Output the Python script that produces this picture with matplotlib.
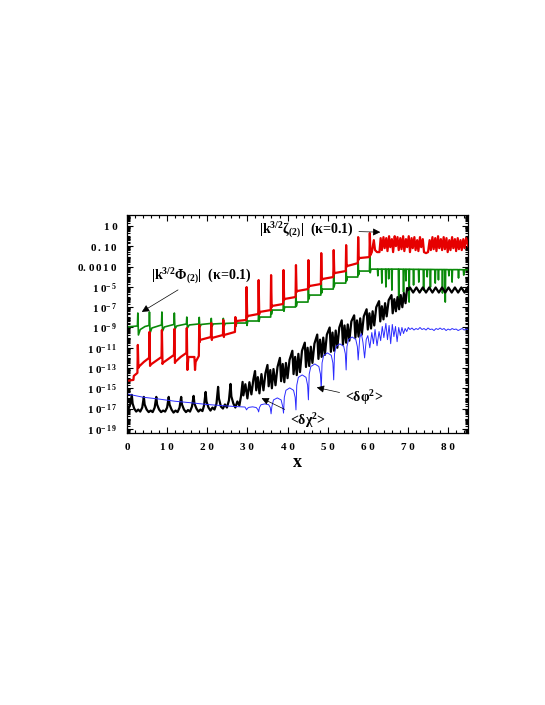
import numpy as np
import matplotlib.pyplot as plt
from matplotlib.ticker import FixedLocator, LogLocator, NullFormatter, MultipleLocator

plt.rcParams['font.family'] = 'Liberation Serif'
plt.rcParams['font.weight'] = 'bold'
plt.rcParams['mathtext.fontset'] = 'custom'
plt.rcParams['mathtext.rm'] = 'Liberation Serif:bold'
plt.rcParams['mathtext.it'] = 'Liberation Serif:bold'
plt.rcParams['mathtext.bf'] = 'Liberation Serif:bold'

# ---- data: (x, log10 value) ----
# |k^{3/2} zeta_(2)|  (red)
red_pts = [
    (0, -14.27), (1.6, -14.17), (1.7, -13.78), (2.6, -13.48), (2.7, -10.72), (2.85, -12.99),
    (2.9, -12.89), (4.2, -12.4), (5.5, -12.0), (5.6, -9.44), (5.75, -12.79),
    (5.8, -12.69), (7.2, -12.3), (8.6, -11.91), (8.7, -9.25), (8.85, -12.6),
    (8.9, -12.5), (10.3, -12.1), (11.7, -11.71), (11.8, -9.15), (11.95, -12.5),
    (12.0, -12.4), (13.4, -11.9), (14.8, -11.51), (14.9, -9.05), (15.05, -13.19),
    (15.3, -11.91), (16.8, -11.91), (16.95, -13.19), (17.1, -12.4), (17.9, -11.81),
    (18.0, -8.75), (18.15, -10.43),
    (18.2, -10.23), (20.9, -9.94), (21.0, -8.56), (21.15, -10.23),
    (21.2, -10.03), (23.9, -9.74), (24.0, -8.26), (24.15, -9.94),
    (24.2, -9.74), (26.9, -9.44), (27.0, -7.97), (27.15, -8.75),
    (27.2, -8.36), (29.7, -8.26), (29.8, -5.01), (29.95, -8.0),
    (30.0, -7.87), (32.7, -7.67), (32.8, -4.32), (32.95, -7.7),
    (33.0, -7.47), (35.8, -7.28), (35.9, -3.83), (36.05, -7.0),
    (36.1, -6.88), (38.9, -6.68), (39.0, -3.33), (39.15, -6.3),
    (39.2, -6.19), (42.0, -5.99), (42.1, -2.84), (42.25, -5.5),
    (42.3, -5.41), (45.1, -5.21), (45.2, -2.35), (45.35, -5.0),
    (45.4, -4.91), (48.3, -4.71), (48.4, -1.66), (48.55, -4.3),
    (48.6, -4.22), (51.4, -4.02), (51.5, -1.36), (51.65, -3.7),
    (51.7, -3.63), (54.5, -3.43), (54.6, -0.87), (54.75, -3.0),
    (54.8, -2.94), (57.5, -2.65), (57.6, -0.08), (57.75, -2.3),
    (57.8, -2.15), (60.4, -2.05), (60.5, 0.31), (60.65, -1.86),
    (61.0, -1.56), (61.5, -0.38), (61.8, -1.36), (62.3, -1.56), (62.9, -1.56), (63.2, -0.18),
    (63.5, -1.36), (63.9, -0.08), (64.2, -1.17), (64.6, -0.18), (64.9, -1.46), (65.3, 0.01),
    (65.6, -1.07), (66.0, -0.28), (66.3, -1.56), (66.7, 0.01), (67.0, -0.97), (67.4, -0.08),
    (67.7, -1.36), (68.1, -0.18), (68.4, -1.27), (68.8, 0.01), (69.1, -1.46), (69.5, -0.28),
    (69.8, -1.07), (70.2, 0.01), (70.5, -1.56), (70.9, -0.18), (71.2, -1.17), (71.6, -0.08),
    (71.9, -1.36), (72.3, -0.38), (72.6, -1.46), (73.0, -0.08), (73.3, -1.07), (73.7, -0.28),
    (74.0, -1.56), (74.5, -1.66), (75.0, -1.56), (75.4, -0.38), (75.7, -1.36), (76.1, -0.08),
    (76.4, -1.27), (76.8, -0.18), (77.1, -1.46), (77.5, 0.01), (77.8, -1.17), (78.2, -0.28),
    (78.5, -1.36), (78.9, -0.08), (79.2, -1.27), (79.6, -0.18), (79.9, -1.56), (80.3, -0.38),
    (80.6, -1.36), (81.0, -0.08), (81.3, -1.17), (81.7, -0.28), (82.0, -1.46), (82.4, -0.18),
    (82.7, -1.27), (83.1, -0.38), (83.4, -1.36), (83.8, -0.28), (84.1, -1.17), (84.5, -0.18),
    (85.0, -0.97),
]

# |k^{3/2} Phi_(2)|  (green)
green_pts = [
    (0, -8.95), (2.6, -8.85), (2.7, -7.57), (2.85, -9.74), (3.3, -9.2), (4.5, -8.9),
    (5.5, -8.8), (5.6, -7.47), (5.75, -9.54), (6.2, -9.05), (8.6, -8.75), (8.7, -7.47),
    (8.85, -9.35), (9.3, -8.95), (11.7, -8.7), (11.8, -7.57), (11.95, -9.15), (12.4, -8.85),
    (14.8, -8.65), (14.9, -7.97), (15.05, -9.05), (15.5, -8.75), (17.9, -8.65), (18.0, -8.0),
    (18.15, -8.95), (18.5, -8.7), (20.9, -8.6), (21.0, -8.1), (21.15, -8.9), (21.5, -8.65),
    (23.9, -8.6), (24.0, -8.1), (24.15, -8.9), (24.5, -8.6), (26.9, -8.56),
    (27.0, -8.1), (27.1, -8.9), (27.3, -8.56), (29.7, -8.56), (29.8, -7.8), (29.9, -8.8),
    (30.1, -8.36), (32.7, -8.36), (32.8, -7.5), (32.9, -8.4), (33.1, -7.97), (35.8, -7.97),
    (35.9, -6.8), (36.0, -7.7), (36.2, -7.28), (38.9, -7.28), (39.0, -6.1), (39.1, -7.4),
    (39.3, -6.98), (42.0, -6.98), (42.1, -5.3), (42.2, -6.9), (42.4, -6.49), (45.1, -6.49),
    (45.2, -4.8), (45.3, -6.2), (45.5, -5.80), (48.3, -5.80), (48.4, -4.1), (48.5, -5.6),
    (48.7, -5.21), (51.4, -5.21), (51.5, -3.5), (51.6, -5.0), (51.8, -4.62), (54.5, -4.62),
    (54.6, -2.9), (54.7, -4.4), (54.9, -4.02), (57.5, -4.02), (57.6, -2.3), (57.7, -3.8),
    (57.9, -3.43), (60.4, -3.43), (60.5, -1.8), (60.6, -3.6), (60.8, -3.24),
    (62.4, -3.24), (62.5, -3.9), (62.6, -3.24), (63.4, -3.24), (63.5, -4.62), (63.6, -3.24),
    (64.4, -3.24), (64.5, -5.0), (64.6, -3.24), (65.1, -3.24), (65.2, -4.2), (65.3, -3.24),
    (65.9, -3.24), (66.0, -5.31), (66.1, -3.24), (67.6, -3.24), (67.7, -6.29), (67.8, -3.24),
    (68.8, -3.25), (68.9, -5.5), (69.0, -3.25), (69.4, -3.25), (69.5, -4.4), (69.6, -3.25),
    (70.2, -3.25), (70.3, -6.49), (70.4, -3.25), (71.3, -3.26), (71.4, -4.81), (71.5, -3.26),
    (72.6, -3.26), (72.7, -4.52), (72.8, -3.26), (73.8, -3.27), (73.9, -5.31), (74.0, -3.27),
    (74.7, -3.27), (74.8, -4.0), (74.9, -3.27), (75.5, -3.27), (75.6, -5.01), (75.7, -3.27),
    (76.7, -3.28), (76.8, -4.62), (76.9, -3.28), (77.5, -3.28), (77.6, -4.3), (77.7, -3.28),
    (78.5, -3.28), (78.6, -5.6), (78.7, -3.28), (79.2, -3.28), (79.3, -6.49), (79.4, -3.28),
    (80.1, -3.29), (80.2, -3.9), (80.3, -3.29), (80.9, -3.29), (81.0, -4.52), (81.1, -3.29),
    (82.5, -3.29), (82.6, -4.12), (82.7, -3.29), (83.8, -3.3), (83.9, -3.83), (84.0, -3.3),
    (85.0, -3.3),
]

# <d chi^2>  (black)
black_pts = [
    (0, -16.7), (0.4, -17.0), (0.8, -16.6), (1.2, -15.65), (1.4, -16.5), (1.8, -17.0),
    (2.3, -17.3), (2.8, -17.1), (3.3, -17.3), (3.8, -16.9), (4.2, -15.85), (4.4, -16.6),
    (4.9, -17.1), (5.4, -17.35), (5.9, -17.2), (6.4, -17.35), (6.9, -16.9), (7.3, -15.85),
    (7.5, -16.6), (8.0, -17.1), (8.5, -17.35), (9.0, -17.2), (9.5, -17.3), (10.0, -16.9),
    (10.4, -15.85), (10.6, -16.6), (11.1, -17.1), (11.6, -17.4), (12.1, -17.2), (12.6, -17.35),
    (13.1, -16.9), (13.5, -15.85), (13.7, -16.6), (14.2, -17.1), (14.7, -17.35), (15.2, -17.15),
    (15.7, -17.3), (16.2, -16.8), (16.6, -15.75), (16.8, -16.5), (17.3, -17.0), (17.8, -17.3),
    (18.3, -17.1), (18.8, -17.25), (19.2, -16.7), (19.6, -15.36), (19.8, -16.3), (20.3, -16.9),
    (20.8, -17.2), (21.3, -16.9), (21.8, -17.1), (22.3, -16.5), (22.7, -14.86), (22.9, -16.0),
    (23.4, -16.8), (23.9, -17.0), (24.4, -16.6), (24.9, -16.9), (25.4, -16.2), (25.8, -14.57),
    (26.0, -15.8), (26.5, -16.5), (27.0, -16.9), (27.5, -16.3), (28.0, -16.7), (28.4, -15.8),
    (28.8, -14.37), (29.0, -15.7), (29.5, -14.6), (30.0, -16.0), (30.5, -14.4), (31.0, -15.6),
    (31.5, -14.1), (31.9, -13.3), (32.2, -15.2), (32.6, -13.9), (33.0, -15.5), (33.5, -13.6),
    (34.0, -15.2), (34.5, -13.5), (35.0, -12.7), (35.3, -14.8), (35.7, -13.2), (36.1, -15.0),
    (36.5, -13.1), (37.0, -14.7), (37.5, -12.9), (38.1, -12.0), (38.4, -14.3), (38.8, -12.6),
    (39.2, -14.4), (39.6, -12.5), (40.0, -14.0), (40.5, -12.2), (41.2, -11.3), (41.5, -13.6),
    (41.9, -11.9), (42.3, -13.7), (42.7, -11.6), (43.1, -13.4), (43.6, -11.3), (44.3, -10.5),
    (44.6, -12.9), (45.0, -11.0), (45.4, -12.8), (45.8, -10.9), (46.2, -12.5), (46.7, -10.6),
    (47.4, -9.7), (47.7, -12.1), (48.1, -10.2), (48.5, -11.9), (48.9, -10.0), (49.3, -11.7),
    (49.8, -9.7), (50.5, -9.0), (50.8, -11.4), (51.2, -9.5), (51.6, -11.3), (52.0, -9.3),
    (52.4, -11.0), (52.9, -9.0), (53.5, -8.3), (53.8, -10.7), (54.2, -8.8), (54.6, -10.5),
    (55.0, -8.7), (55.4, -10.3), (55.9, -8.4), (56.6, -7.8), (56.9, -10.0), (57.3, -8.3),
    (57.7, -9.9), (58.1, -8.1), (58.5, -9.7), (59.0, -7.9), (59.7, -7.2), (60.0, -9.2),
    (60.4, -7.6), (60.8, -9.1), (61.2, -7.4), (61.6, -8.8), (62.1, -7.0), (62.8, -6.4),
    (63.1, -8.4), (63.5, -6.9), (63.9, -8.2), (64.3, -6.6), (64.7, -7.9), (65.2, -6.3),
    (65.9, -5.8), (66.2, -7.6), (66.6, -6.2), (67.0, -7.4), (67.4, -6.0), (67.8, -7.2),
    (68.2, -5.8), (68.6, -7.0), (69.0, -5.6), (69.4, -6.6), (69.8, -5.1),
    (70.1, -5.3), (70.5, -5.05), (70.9, -5.3), (71.3, -5.55), (71.7, -5.3), (72.1, -5.05),
    (72.5, -5.3), (72.9, -5.55), (73.3, -5.3), (73.7, -5.05), (74.1, -5.3), (74.5, -5.55),
    (74.9, -5.3), (75.3, -5.05), (75.7, -5.3), (76.1, -5.55), (76.5, -5.3), (76.9, -5.05),
    (77.3, -5.3), (77.7, -5.55), (78.1, -5.3), (78.5, -5.05), (78.9, -5.3), (79.3, -5.55),
    (79.7, -5.3), (80.1, -5.05), (80.5, -5.3), (80.9, -5.55), (81.3, -5.3), (81.7, -5.05),
    (82.1, -5.3), (82.5, -5.55), (82.9, -5.3), (83.3, -5.05), (83.7, -5.3), (84.1, -5.55),
    (84.5, -5.3), (84.9, -5.05),
]

# <d phi^2>  (blue)
blue_pts = [
    (0, -15.55), (2, -15.72), (4, -15.88), (7.7, -16.05), (12, -16.28), (16.2, -16.44),
    (20, -16.6), (24.4, -16.73), (27, -16.8), (29.4, -16.85),
    (29.8, -17.13), (30.0, -16.98), (30.4, -16.88), (31.3, -16.83), (32.2, -16.9), (32.6, -17.1),
    (32.8, -17.33), (33.0, -16.9), (33.4, -16.62), (34.35, -16.54), (35.3, -16.62), (35.7, -16.9),
    (35.9, -17.52), (36.1, -16.8), (36.5, -16.15), (37.45, -15.95), (38.4, -16.15), (38.8, -16.8),
    (39.0, -17.45), (39.2, -15.9), (39.6, -15.2), (40.55, -14.96), (41.5, -15.2), (41.9, -15.9),
    (42.1, -17.13), (42.3, -14.7), (42.7, -13.92), (43.65, -13.68), (44.6, -13.92), (45.0, -14.7),
    (45.2, -16.14), (45.4, -13.6), (45.8, -12.85), (46.8, -12.6), (47.8, -12.85), (48.2, -13.6),
    (48.4, -15.16), (48.6, -12.5), (49.0, -11.75), (49.95, -11.51), (50.9, -11.75), (51.3, -12.5),
    (51.5, -14.17), (51.7, -11.6), (52.1, -10.86), (53.05, -10.62), (54.0, -10.86), (54.4, -11.6),
    (54.6, -13.19), (54.8, -10.9), (55.2, -10.18), (56.1, -9.94), (57.0, -10.18), (57.4, -10.9),
    (57.6, -12.2), (58.0, -10.0), (58.4, -9.6), (58.8, -10.5), (59.2, -12.0), (59.6, -10.2),
    (60.0, -9.8), (60.5, -11.0), (61.0, -9.5), (61.4, -10.6), (61.8, -9.2), (62.3, -10.8),
    (62.8, -9.4), (63.2, -10.3), (63.6, -8.9), (64.0, -10.0), (64.5, -8.6), (64.9, -10.2),
    (65.3, -8.8), (65.7, -10.6), (66.1, -8.7), (66.5, -9.9), (66.9, -8.9), (67.3, -10.4),
    (67.7, -9.0), (68.1, -9.8), (68.5, -9.0), (68.9, -9.6), (69.3, -9.1), (69.7, -9.4),
    (70.1, -9.0), (70.5, -9.2), (71, -9.05), (71.5, -9.25), (72, -9.1), (72.5, -9.2),
    (73, -9.0), (73.5, -9.2), (74, -9.1), (74.5, -9.25), (75, -9.05), (75.5, -9.2),
    (76, -9.15), (76.5, -9.3), (77, -9.1), (77.5, -9.2), (78, -9.05), (78.5, -9.2),
    (79, -9.1), (79.5, -9.3), (80, -9.15), (80.5, -9.25), (81, -9.1), (81.5, -9.2),
    (82, -9.15), (82.5, -9.3), (83, -9.2), (83.5, -9.1), (84, -9.25), (84.5, -9.15),
    (85, -9.2),
]

x_ticks = [0, 10, 20, 30, 40, 50, 60, 70, 80]
x_labels = ["0", "1 0", "2 0", "3 0", "4 0", "5 0", "6 0", "7 0", "8 0"]
y_exps = [1, -1, -3, -5, -7, -9, -11, -13, -15, -17, -19]
y_labels = ["1 0", r"$0\,.\,1\,0$", r"$0.\,0\,0\,1\,0$", r"1 0$^{-\,5}$", r"1 0$^{-\,7}$",
            r"1 0$^{-\,9}$", r"1 0$^{-\,1\,1}$", r"1 0$^{-\,1\,3}$", r"1 0$^{-\,1\,5}$",
            r"1 0$^{-\,1\,7}$", r"1 0$^{-\,1\,9}$"]


def series(pts):
    a = np.array(pts)
    return a[:, 0], 10.0 ** a[:, 1]


fig = plt.figure(figsize=(5.45, 7.05), dpi=100)
ax = fig.add_axes([0.233, 0.386, 0.626, 0.309])

ax.plot(*series(green_pts), color="#0a8a0a", lw=1.2)
ax.plot(*series(red_pts), color="#e60000", lw=1.6)
ax.plot(*series(black_pts), color="black", lw=1.6)
ax.plot(*series(blue_pts), color="#2b2bff", lw=0.7)

ax.set_yscale("log")
ax.set_xlim(0, 85)
ax.set_ylim(10 ** -19.4, 10 ** 2.1)

ax.yaxis.set_major_locator(FixedLocator([10.0 ** e for e in y_exps]))
ax.set_yticklabels(y_labels)
ax.yaxis.set_minor_locator(LogLocator(base=10, subs=np.arange(1, 10), numticks=200))
ax.yaxis.set_minor_formatter(NullFormatter())
ax.set_xticks(x_ticks)
ax.set_xticklabels(x_labels)
ax.xaxis.set_minor_locator(MultipleLocator(2))

ax.tick_params(which="both", direction="in", top=True, right=True, width=0.8)
ax.tick_params(which="major", length=4, labelsize=8)
ax.tick_params(axis="y", which="major", pad=7)
ax.tick_params(axis="x", which="major", pad=7)
ax.tick_params(which="minor", length=2)
for s in ax.spines.values():
    s.set_linewidth(0.9)

ax.set_xlabel("x", fontsize=13, fontweight="bold", labelpad=2)

arrow = dict(arrowstyle="-|>", color="black", lw=0.5, mutation_scale=11)
ax.annotate(r"|k$^{3/2}$Φ$_{(2)}$|  (κ=0.1)", xy=(3.1, 10 ** -7.6), xytext=(18.5, 10 ** -3.9),
            ha="center", va="center", fontsize=10, arrowprops=arrow)
ax.annotate(r"|k$^{3/2}$ζ$_{(2)}$|  (κ=0.1)", xy=(63.8, 10 ** 0.4), xytext=(44.6, 10 ** 0.6),
            ha="center", va="center", fontsize=10, arrowprops=arrow)
ax.annotate(r"<δχ$^{2}$>", xy=(32.9, 10 ** -15.85), xytext=(45.1, 10 ** -18.2),
            ha="center", va="center", fontsize=10, arrowprops=arrow)
ax.annotate(r"<δφ$^{2}$>", xy=(46.6, 10 ** -14.86), xytext=(59.1, 10 ** -15.95),
            ha="center", va="center", fontsize=10, arrowprops=arrow)

fig.savefig("out.png", dpi=100)
